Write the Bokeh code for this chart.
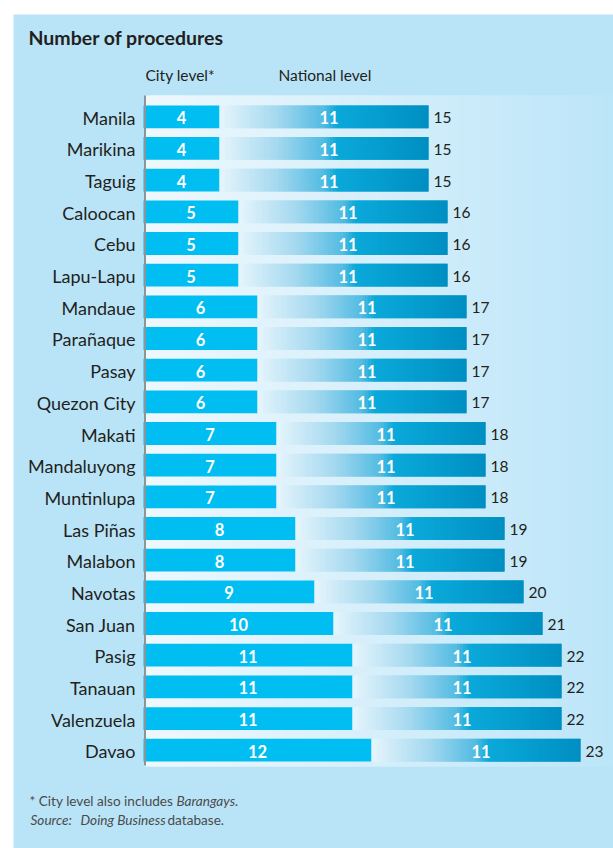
import numpy as np
from bokeh.plotting import figure
from bokeh.models import Range1d, ColumnDataSource
from bokeh.embed import file_html
from bokeh.resources import INLINE
from bokeh.core.properties import value

# ---------------- data ----------------
cities = ["Manila", "Marikina", "Taguig", "Caloocan", "Cebu", "Lapu-Lapu",
          "Mandaue", "Parañaque", "Pasay", "Quezon City", "Makati",
          "Mandaluyong", "Muntinlupa", "Las Piñas", "Malabon", "Navotas",
          "San Juan", "Pasig", "Tanauan", "Valenzuela", "Davao"]
city_level = [4, 4, 4, 5, 5, 5, 6, 6, 6, 6, 7, 7, 7, 8, 8, 9, 10, 11, 11, 11, 12]
national_level = [11, 11, 11, 11, 11, 11, 11, 11, 11, 11, 11,
                  11, 11, 11, 11, 11, 11, 11, 11, 11, 11]
totals = [c + n for c, n in zip(city_level, national_level)]

title_text = "Number of procedures"
header_city = "City level*"
header_national = "National level"

# ---------------- geometry / styling ----------------
PANEL = "#b9e4f8"
CITY_COLOR = "#00bdf2"
FONT = "Lato"
DARK = "#231f20"

OX, OY = 0, 0            # page position of the canvas
W, H = 613, 848
PX = 19.0                # pixels per procedure
X0 = 143.0               # page x of value 0
ROW = 31.67              # pixels per row
Y0 = 116.3               # page y of first row centre
BAR_H = 0.72


def ux(px):
    return (px - X0) / PX


def uy(py):
    return (py - Y0) / ROW


def hex2rgb(h):
    h = h.lstrip("#")
    return np.array([int(h[i:i + 2], 16) for i in (0, 2, 4)], dtype=float)


def grad(stops, t):
    for (t0, c0), (t1, c1) in zip(stops[:-1], stops[1:]):
        if t0 <= t <= t1:
            f = (t - t0) / (t1 - t0) if t1 > t0 else 0
            rgb = hex2rgb(c0) * (1 - f) + hex2rgb(c1) * f
            return "#%02x%02x%02x" % tuple(int(round(v)) for v in rgb)
    return stops[-1][1]


nat_stops = [(0.0, "#e6f5fc"), (0.28, "#a3d8ef"), (0.5, "#52bbe2"),
             (0.56, "#0aa9da"), (1.0, "#008fc2")]
bg_stops = [(0.0, "#eef8fd"), (1.0, PANEL)]

p = figure(width=W, height=H, output_backend="svg", toolbar_location=None,
           x_range=Range1d(ux(OX), ux(OX + W)),
           y_range=Range1d(uy(OY + H), uy(OY)),
           x_axis_location=None, y_axis_location=None,
           min_border=0, min_border_left=0, min_border_right=0,
           min_border_top=0, min_border_bottom=0)
p.border_fill_color = "white"
p.background_fill_color = "white"
p.outline_line_color = None
p.grid.visible = False

# panel
p.quad(left=ux(13), right=ux(640), top=uy(14), bottom=uy(880),
       fill_color=PANEL, line_color=None)

# plot-area background gradient
PL, PR, PT, PB = ux(144), ux(640), uy(95), uy(766)
NB = 90
bl, br, bc = [], [], []
for k in range(NB):
    bl.append(PL + (PR - PL) * k / NB)
    br.append(PL + (PR - PL) * min(k + 2, NB) / NB)
    bc.append(grad(bg_stops, (k + 0.5) / NB))
p.quad(left=bl, right=br, top=PT, bottom=PB, fill_color=bc, line_color=None)

ys = list(range(len(cities)))

# city bars
p.hbar(y=ys, left=0, right=city_level, height=BAR_H, fill_color=CITY_COLOR, line_color=None)

# national bars (gradient drawn as overlapping slices)
NS = 70
nl, nr, nb, nt, nc = [], [], [], [], []
for i, (c, n) in enumerate(zip(city_level, national_level)):
    for k in range(NS):
        nl.append(c + n * k / NS)
        nr.append(c + n * min(k + 2, NS) / NS)
        nb.append(i + BAR_H / 2)
        nt.append(i - BAR_H / 2)
        nc.append(grad(nat_stops, (k + 0.5) / NS))
p.quad(left=nl, right=nr, top=nt, bottom=nb, fill_color=nc, line_color=None)

# axis line
p.segment(x0=ux(144.5), y0=uy(95), x1=ux(144.5), y1=uy(765),
          line_color="#8a969c", line_width=2)

src = ColumnDataSource(dict(
    y=ys,
    name=cities,
    cmid=[c / 2 for c in city_level],
    nmid=[c + n / 2 for c, n in zip(city_level, national_level)],
    tot=totals,
    ctxt=[str(c) for c in city_level],
    ntxt=[str(n) for n in national_level],
    ttxt=[str(t) for t in totals],
))

# category labels
p.text(x=ux(135), y="y", text="name", source=src, text_align="right",
       text_baseline="middle", text_color=DARK, text_font=value(FONT),
       text_font_size="18px", y_offset=1)

# value labels
p.text(x="cmid", y="y", text="ctxt", source=src, text_align="center",
       text_baseline="middle", text_color="white", text_font=value(FONT),
       text_font_style="bold", text_font_size="16.5px", y_offset=1)
p.text(x="nmid", y="y", text="ntxt", source=src, text_align="center",
       text_baseline="middle", text_color="white", text_font=value(FONT),
       text_font_style="bold", text_font_size="16.5px", x_offset=5, y_offset=1)
p.text(x="tot", y="y", text="ttxt", source=src, text_align="left",
       text_baseline="middle", text_color=DARK, text_font=value(FONT),
       text_font_size="15.5px", x_offset=5, y_offset=1)

# title and headers
p.text(x=[ux(28)], y=[uy(37)], text=[title_text], text_font=value(FONT),
       text_font_style="bold", text_font_size="19.5px", text_color=DARK,
       text_baseline="middle")
p.text(x=[ux(145), ux(278)], y=[uy(74), uy(74)], text=[header_city, header_national],
       text_font=value(FONT), text_font_size="15.5px", text_color=DARK,
       text_baseline="middle")

# footnotes
NOTE = "#4a4a4a"
NSZ = "13.6px"
L1, L2 = uy(800.5), uy(819)
p.text(x=[ux(29)], y=[L1], text=["* City level also includes"], text_font=value(FONT),
       text_font_size=NSZ, text_color=NOTE, text_baseline="middle")
p.text(x=[ux(176)], y=[L1], text=["Barangays."], text_font=value(FONT),
       text_font_style="italic", text_font_size=NSZ, text_color=NOTE,
       text_baseline="middle")
p.text(x=[ux(30), ux(80)], y=[L2, L2], text=["Source:", "Doing Business"],
       text_font=value(FONT), text_font_style="italic", text_font_size=NSZ,
       text_color=NOTE, text_baseline="middle")
p.text(x=[ux(167)], y=[L2], text=["database."], text_font=value(FONT),
       text_font_size=NSZ, text_color=NOTE, text_baseline="middle")

open("out.html", "w").write(file_html(p, INLINE))
